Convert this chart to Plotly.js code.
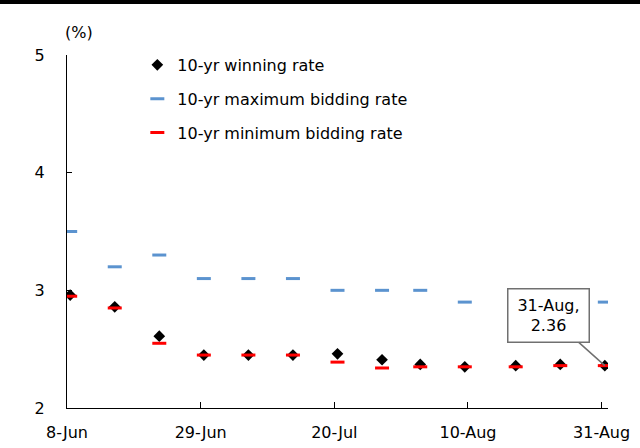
<!DOCTYPE html>
<html>
<head>
<meta charset="utf-8">
<script src="https://cdn.plot.ly/plotly-3.0.1.min.js"></script>
<style>
html,body{margin:0;padding:0;background:#fff;}
#wrap{position:relative;width:640px;height:448px;}
#topbar{position:absolute;left:0;top:0;width:640px;height:4px;background:#000;z-index:10;}
#chart{position:absolute;left:0;top:0;width:640px;height:448px;}
</style>
</head>
<body>
<div id="wrap"><div id="topbar"></div><div id="chart"></div></div>
<script>
// Auction dates (10-yr bonds)
const auctionDates = ['2020-06-08','2020-06-15','2020-06-22','2020-06-29','2020-07-06','2020-07-13','2020-07-20','2020-07-27','2020-08-02','2020-08-09','2020-08-17','2020-08-24','2020-08-31'];
const winningRate = [2.96, 2.86, 2.61, 2.45, 2.45, 2.45, 2.46, 2.41, 2.37, 2.35, 2.36, 2.37, 2.36];
const maxBiddingRate = [3.5, 3.2, 3.3, 3.1, 3.1, 3.1, 3.0, 3.0, 3.0, 2.9, 2.9, 2.9, 2.9];
const minBiddingRate = [2.95, 2.85, 2.55, 2.45, 2.45, 2.45, 2.39, 2.34, 2.35, 2.35, 2.35, 2.36, 2.36];
const tickDates = ['2020-06-08','2020-06-29','2020-07-20','2020-08-10','2020-08-31'];
const tickLabels = ['8-Jun','29-Jun','20-Jul','10-Aug','31-Aug'];
const yTicks = [2, 3, 4, 5];
const seriesNames = ['10-yr winning rate','10-yr maximum bidding rate','10-yr minimum bidding rate'];

const FONT = 'DejaVu Sans, Verdana, sans-serif';
const common = {x: auctionDates, type: 'scatter', mode: 'markers', xperiod: 86400000, xperiodalignment: 'middle', hoverinfo: 'skip'};

const traces = [
  Object.assign({}, common, {y: winningRate, name: seriesNames[0], legendgroup: 'a',
    marker: {symbol: 'diamond', size: 9, color: '#000000'}}),
  Object.assign({}, common, {y: maxBiddingRate, name: seriesNames[1], legendgroup: 'b',
    marker: {symbol: 'line-ew', size: 10, color: '#5b93cf', line: {width: 3, color: '#5b93cf'}}}),
  Object.assign({}, common, {y: minBiddingRate, name: seriesNames[2], legendgroup: 'c',
    marker: {symbol: 'line-ew', size: 10, color: '#ff0000', line: {width: 3, color: '#ff0000'}}})
];

const last = auctionDates.length - 1;
const layout = {
  width: 640, height: 448,
  margin: {l: 67, r: 32, t: 55, b: 40, pad: 0},
  paper_bgcolor: '#ffffff', plot_bgcolor: '#ffffff',
  font: {family: FONT, size: 16, color: '#000000'},
  showlegend: true,
  legend: {x: 0.13, y: 1.02, xanchor: 'left', yanchor: 'top', bgcolor: 'rgba(0,0,0,0)',
    font: {family: FONT, size: 16, color: '#000000'}, tracegroupgap: 10, itemclick: false},
  xaxis: {type: 'date', range: ['2020-06-08', '2020-09-01'], tickmode: 'array',
    tickvals: tickDates, ticktext: tickLabels, showgrid: false, zeroline: false,
    showline: true, linecolor: '#000000', linewidth: 1, ticks: 'inside', ticklen: 6,
    tickcolor: '#000000', ticklabelstandoff: 10, tickfont: {family: FONT, size: 16, color: '#000000'}},
  yaxis: {range: [2, 5], tickmode: 'array', tickvals: yTicks, ticktext: yTicks.map(String),
    showgrid: false, zeroline: false, showline: true, linecolor: '#000000', linewidth: 1,
    ticks: 'inside', ticklen: 5, tickcolor: '#000000', ticklabelstandoff: 18,
    tickfont: {family: FONT, size: 16, color: '#000000'}},
  annotations: [
    {xref: 'paper', yref: 'paper', x: -0.007, y: 1.065, xanchor: 'left', yanchor: 'middle',
     text: '(%)', showarrow: false, font: {family: FONT, size: 16, color: '#000000'}},
    {x: '2020-08-31 12:00', y: winningRate[last], xref: 'x', yref: 'y',
     text: tickLabels[4] + ',<br>' + winningRate[last].toFixed(2),
     showarrow: true, arrowhead: 0, arrowwidth: 1.5, arrowcolor: '#707070',
     ax: -56, ay: -50, bgcolor: '#ffffff', bordercolor: '#707070', borderwidth: 1.5,
     borderpad: 4, width: 72, height: 44, align: 'center',
     font: {family: FONT, size: 16, color: '#000000'}}
  ]
};

Plotly.newPlot('chart', traces, layout, {staticPlot: true, displayModeBar: false});
</script>
</body>
</html>
